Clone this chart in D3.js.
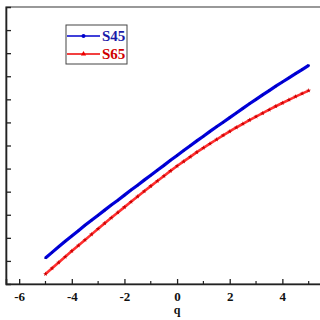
<!DOCTYPE html>
<html>
<head>
<meta charset="utf-8">
<script src="https://cdn.jsdelivr.net/npm/d3@7"></script>
<style>
  body { margin: 0; background: #fff; }
  svg { display: block; }
</style>
</head>
<body>
<div id="chart"></div>
<script>
const qValues = [-5, -4.75, -4.5, -4.25, -4, -3.75, -3.5, -3.25, -3, -2.75, -2.5, -2.25, -2, -1.75, -1.5, -1.25, -1, -0.75, -0.5, -0.25,
                 0, 0.25, 0.5, 0.75, 1, 1.25, 1.5, 1.75, 2, 2.25, 2.5, 2.75, 3, 3.25, 3.5, 3.75, 4, 4.25, 4.5, 4.75, 5];
const s45 = [1.13, 1.37, 1.61, 1.85, 2.08, 2.31, 2.54, 2.76, 2.98, 3.20, 3.42, 3.63, 3.85, 4.07, 4.28, 4.50, 4.71, 4.93, 5.14, 5.36,
             5.57, 5.78, 5.99, 6.20, 6.40, 6.61, 6.81, 7.01, 7.21, 7.41, 7.61, 7.81, 8.00, 8.19, 8.38, 8.57, 8.75, 8.93, 9.11, 9.29, 9.47];
const s65 = [0.43, 0.68, 0.93, 1.18, 1.43, 1.67, 1.91, 2.15, 2.39, 2.63, 2.87, 3.10, 3.33, 3.56, 3.79, 4.02, 4.24, 4.46, 4.68, 4.90,
             5.11, 5.31, 5.51, 5.71, 5.90, 6.08, 6.26, 6.44, 6.61, 6.78, 6.94, 7.10, 7.25, 7.40, 7.55, 7.70, 7.84, 7.98, 8.12, 8.25, 8.38];
const xTicks = [-6, -4, -2, 0, 2, 4];
const xMinor = [-5, -3, -1, 1, 3, 5];
const yTicks = d3.range(1, 12);
const seriesNames = ["S45", "S65"];

const FONT = "'Liberation Serif', 'Times New Roman', serif";
const W = 320, H = 320;
const svg = d3.select("#chart").append("svg").attr("width", W).attr("height", H);

const x = d3.scaleLinear().domain([-6.5, 6]).range([6, 335]);
const y = d3.scaleLinear().domain([0, 12]).range([284, 7]);

// frame
svg.append("rect")
  .attr("x", x(-6.5)).attr("y", y(12))
  .attr("width", x(6) - x(-6.5)).attr("height", y(0) - y(12))
  .attr("fill", "none").attr("stroke", "#555").attr("stroke-width", 1.2);

// x axis with inward ticks
const xAxis = svg.append("g").attr("transform", `translate(0,${y(0)})`)
  .call(d3.axisBottom(x).tickValues(xTicks).tickSize(-5).tickPadding(8));
xAxis.select(".domain").attr("stroke", "#222").attr("stroke-width", 1.6);
xAxis.selectAll(".tick line").attr("stroke", "#222").attr("stroke-width", 1.3);
xAxis.selectAll(".tick text")
  .style("font-family", FONT).style("font-weight", "bold").style("font-size", "13px")
  .attr("fill", "#111")
  .text(d => d < 0 ? "-" + Math.abs(d) : d);
svg.append("g").selectAll("line").data(xMinor).join("line")
  .attr("x1", d => x(d)).attr("x2", d => x(d))
  .attr("y1", y(0)).attr("y2", y(0) - 3)
  .attr("stroke", "#222").attr("stroke-width", 1.2);

// y axis (labels cut off in the reference)
const yAxis = svg.append("g").attr("transform", `translate(${x(-6.5)},0)`)
  .call(d3.axisLeft(y).tickValues(yTicks).tickSize(-5).tickFormat(""));
yAxis.select(".domain").attr("stroke", "#222").attr("stroke-width", 1.6);
yAxis.selectAll(".tick line").attr("stroke", "#222").attr("stroke-width", 1.3);

svg.append("text").attr("x", x(0)).attr("y", 314).attr("text-anchor", "middle")
  .style("font-family", FONT).style("font-weight", "bold").style("font-size", "12px")
  .attr("fill", "#111").text("q");

// series
const line = d3.line().x((d, i) => x(qValues[i])).y(d => y(d));

svg.append("path").datum(s45).attr("d", line)
  .attr("fill", "none").attr("stroke", "#0000dd").attr("stroke-width", 3.2);
svg.append("g").selectAll("circle").data(s45).join("circle")
  .attr("cx", (d, i) => x(qValues[i])).attr("cy", d => y(d)).attr("r", 1.2)
  .attr("fill", "#0000b0");

svg.append("path").datum(s65).attr("d", line)
  .attr("fill", "none").attr("stroke", "#ff3030").attr("stroke-width", 2.6);
const star = d3.symbol().type(d3.symbolStar).size(7);
svg.append("g").selectAll("path").data(s65).join("path")
  .attr("transform", (d, i) => `translate(${x(qValues[i])},${y(d)})`)
  .attr("d", star).attr("fill", "#cc0000");

// legend
const lg = svg.append("g");
lg.append("rect").attr("x", 66).attr("y", 25).attr("width", 61).attr("height", 39)
  .attr("fill", "#fff").attr("stroke", "#444").attr("stroke-width", 1);
const legendColors = ["#0000cc", "#ee0000"];
seriesNames.forEach((name, i) => {
  const ly = 36 + i * 18;
  lg.append("line").attr("x1", 67).attr("x2", 100).attr("y1", ly).attr("y2", ly)
    .attr("stroke", legendColors[i]).attr("stroke-width", 1.3);
  if (i === 0) {
    lg.append("circle").attr("cx", 83.5).attr("cy", ly).attr("r", 2).attr("fill", legendColors[i]);
  } else {
    lg.append("path").attr("transform", `translate(83.5,${ly})`)
      .attr("d", d3.symbol().type(d3.symbolTriangle).size(12)).attr("fill", legendColors[i]);
  }
  lg.append("text").attr("x", 102).attr("y", ly + 5)
    .style("font-family", FONT).style("font-weight", "bold").style("font-size", "15px")
    .attr("fill", i === 0 ? "#1a1aa8" : "#d00000").text(name);
});
</script>
</body>
</html>
